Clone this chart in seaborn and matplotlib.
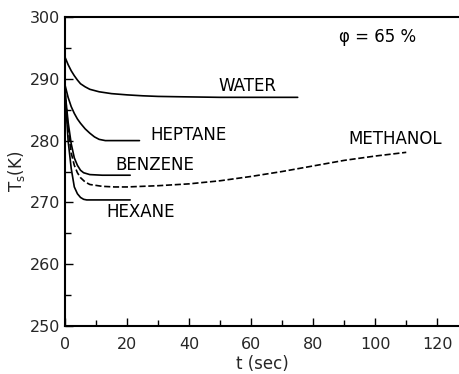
import matplotlib
matplotlib.use("Agg")
import matplotlib.pyplot as plt
import seaborn as sns
import pandas as pd
from matplotlib.ticker import MultipleLocator

# Data
water_t = [0, 1, 2, 3, 4, 5, 6.5, 8, 11, 15, 20, 25, 30, 36, 50, 60, 75]
water_T = [293.5, 292.3, 291.3, 290.5, 289.8, 289.2, 288.7, 288.3, 287.9, 287.6, 287.4,
           287.25, 287.15, 287.1, 287.0, 287.0, 287.0]
heptane_t = [0, 1, 2, 3, 4, 5, 6.5, 8, 9.5, 11, 13, 24]
heptane_T = [289.0, 287.0, 285.5, 284.4, 283.5, 282.8, 281.9, 281.2, 280.6, 280.2, 280.0, 280.0]
benzene_t = [0, 1, 2, 3, 4, 5, 6, 8, 12, 21]
benzene_T = [288.0, 283.0, 279.5, 277.2, 276.0, 275.2, 274.8, 274.5, 274.4, 274.4]
hexane_t = [0, 1, 2, 3, 4, 5, 6, 7, 10, 21]
hexane_T = [288.0, 280.0, 275.5, 272.5, 271.4, 270.8, 270.5, 270.4, 270.4, 270.4]
methanol_t = [0, 1, 2, 3, 4, 5, 6.5, 8, 12, 16, 20, 30, 40, 50, 60, 70, 80, 90, 100, 110]
methanol_T = [288.0, 282.0, 278.0, 276.0, 274.8, 274.0, 273.3, 272.9, 272.6, 272.5, 272.5,
              272.7, 273.0, 273.5, 274.2, 275.0, 275.9, 276.8, 277.5, 278.1]

labels = ["WATER", "HEPTANE", "BENZENE", "HEXANE", "METHANOL"]
label_pos_t = [49.4, 27.4, 16.1, 13.2, 91.3]
label_pos_T = [288.8, 280.9, 276.05, 268.4, 280.3]

sns.set_theme(style="ticks")
plt.rcParams['font.family'] = ['DejaVu Sans']

fig = plt.figure(figsize=(4.59, 3.74), dpi=100)
ax = fig.add_axes([65/459, 48/374, (459-65)/459, (326-17)/374])

series = [(water_t, water_T, "-"), (heptane_t, heptane_T, "-"),
          (benzene_t, benzene_T, "-"), (hexane_t, hexane_T, "-"),
          (methanol_t, methanol_T, "--")]
for t, T, ls in series:
    df = pd.DataFrame({"t": t, "T": T})
    sns.lineplot(data=df, x="t", y="T", ax=ax, color="black", lw=1.2,
                 linestyle=ls, estimator=None, sort=False)

for lab, lt, lT in zip(labels, label_pos_t, label_pos_T):
    ax.text(lt, lT, lab, fontsize=12, color="black", ha="left", va="center")

ax.text(88.4, 296.7, "φ = 65 %", fontsize=12, color="black", ha="left", va="center")

ax.set_xlim(0, 127)
ax.set_ylim(250, 300)
ax.xaxis.set_major_locator(MultipleLocator(20))
ax.xaxis.set_minor_locator(MultipleLocator(10))
ax.yaxis.set_major_locator(MultipleLocator(10))
ax.yaxis.set_minor_locator(MultipleLocator(5))
ax.tick_params(which="both", direction="in", color="black", width=1, labelsize=11.5)
ax.tick_params(which="major", length=6)
ax.tick_params(which="minor", length=4)
ax.tick_params(axis="x", pad=8)
for s in ["left", "bottom", "top"]:
    ax.spines[s].set_visible(True)
    ax.spines[s].set_color("black")
    ax.spines[s].set_linewidth(1.5)
ax.spines["right"].set_visible(False)

ax.set_xlabel("t (sec)", fontsize=12, labelpad=2)
ax.set_ylabel(r"T$_\mathrm{s}$(K)", fontsize=12, labelpad=2)

fig.savefig("out.png", dpi=100)
